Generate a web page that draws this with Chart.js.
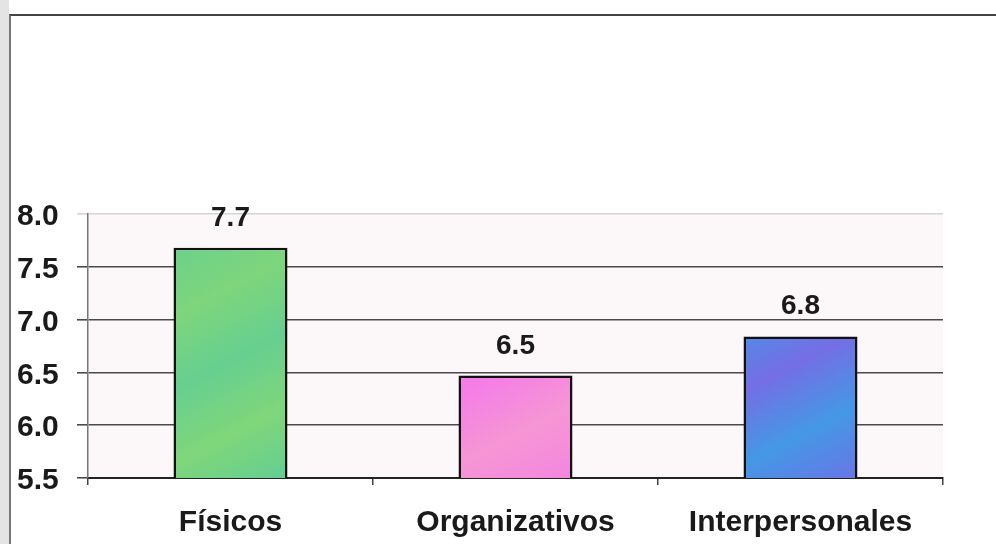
<!DOCTYPE html>
<html lang="es">

<head>
    <meta charset="UTF-8">
    <title>Factores</title>
    <script src="https://cdn.jsdelivr.net/npm/chart.js"></script>
    <style>
        html, body { margin: 0; padding: 0; background: #fff; }
        body { width: 996px; height: 544px; position: relative; overflow: hidden; }
        #strip { position: absolute; left: 0; top: 0; width: 9px; height: 544px; background: #e4e4e4; }
        #frame { position: absolute; left: 9px; top: 14px; width: 990px; height: 540px;
                 border-top: 2px solid #444; border-left: 2px solid #777; }
        #wrap { position: absolute; left: 0; top: 0; width: 996px; height: 544px; }
    </style>
</head>

<body>
    <div id="strip"></div>
    <div id="frame"></div>
    <div id="wrap"><canvas id="myChart" width="996" height="544"></canvas></div>

    <script>
        // datos
        var categorias = ['Físicos', 'Organizativos', 'Interpersonales'];
        var valores = [7.68, 6.47, 6.84];
        var etiquetas = ['7.7', '6.5', '6.8'];
        var ticksY = [5.5, 6.0, 6.5, 7.0, 7.5, 8.0];

        // colores de gradiente por barra
        var gradStops = [
            ['#6ad08c', '#7ed57c', '#66cf90', '#80d67a', '#62ce93'],
            ['#f57ee6', '#f59bd0', '#f47ce8', '#f696d4', '#f385e0'],
            ['#7170e6', '#4a92e8', '#746ee4', '#4498e6', '#6a74e6']
        ];

        var fuente = "'Liberation Sans', Arial, sans-serif";

        function relleno(context) {
            var chart = context.chart;
            var area = chart.chartArea;
            var s = gradStops[context.dataIndex];
            if (!area || !chart.scales.x) return s[0];
            var cx = chart.scales.x.getPixelForValue(context.dataIndex);
            var g = chart.ctx.createLinearGradient(cx - 60, area.top + 30, cx + 60, area.bottom);
            s.forEach(function (c, i) { g.addColorStop(i / (s.length - 1), c); });
            return g;
        }

        // fondo del area de trazado
        var fondoPlugin = {
            id: 'fondo',
            beforeDraw: function (chart) {
                var a = chart.chartArea;
                var ctx = chart.ctx;
                ctx.save();
                ctx.fillStyle = '#fcf7f9';
                ctx.fillRect(a.left, a.top, a.right - a.left, a.bottom - a.top);
                ctx.restore();
            }
        };

        // etiquetas de valor encima de las barras
        var etiquetasPlugin = {
            id: 'etiquetas',
            afterDatasetsDraw: function (chart) {
                var ctx = chart.ctx;
                var meta = chart.getDatasetMeta(0);
                ctx.save();
                ctx.font = 'bold 28px ' + fuente;
                ctx.fillStyle = '#1a1a1a';
                ctx.textAlign = 'center';
                ctx.textBaseline = 'alphabetic';
                meta.data.forEach(function (bar, i) {
                    ctx.fillText(etiquetas[i], bar.x, bar.y - 22);
                });
                ctx.restore();
            }
        };

        const ctx = document.getElementById('myChart');
        var myChart = new Chart(ctx, {
            type: 'bar',
            data: {
                labels: categorias,
                datasets: [{
                    data: valores,
                    backgroundColor: relleno,
                    borderColor: '#111',
                    borderWidth: 2.5,
                    borderSkipped: false,
                    categoryPercentage: 1.0,
                    barPercentage: 0.4
                }]
            },
            options: {
                responsive: false,
                animation: false,
                devicePixelRatio: 1,
                layout: { padding: { left: 17, top: 214, right: 53, bottom: 0 } },
                plugins: {
                    legend: { display: false },
                    tooltip: { enabled: false }
                },
                scales: {
                    x: {
                        grid: {
                            display: true,
                            offset: true,
                            drawOnChartArea: false,
                            drawTicks: true,
                            tickLength: 7,
                            color: '#444',
                            lineWidth: 1.5
                        },
                        border: { color: '#222', width: 2 },
                        ticks: {
                            color: '#1a1a1a',
                            padding: 20,
                            font: { family: fuente, size: 30, weight: 'bold' }
                        },
                        afterFit: function (scale) { scale.height = 66; }
                    },
                    y: {
                        min: 5.5,
                        max: 8.0,
                        afterBuildTicks: function (scale) {
                            scale.ticks = ticksY.map(function (v) { return { value: v }; });
                        },
                        grid: {
                            color: function (c) {
                                return c.tick && c.tick.value === 8.0 ? '#d8d4d6' : '#4a4a4a';
                            },
                            lineWidth: 1.6,
                            tickLength: 11
                        },
                        border: { color: '#777', width: 1.5 },
                        ticks: {
                            color: '#1a1a1a',
                            crossAlign: 'far',
                            padding: 4,
                            labelOffset: 3,
                            font: { family: fuente, size: 30, weight: 'bold' },
                            callback: function (v) { return Number(v).toFixed(1); }
                        },
                        afterFit: function (scale) { scale.width = 71; }
                    }
                }
            },
            plugins: [fondoPlugin, etiquetasPlugin]
        });
    </script>
</body>

</html>
